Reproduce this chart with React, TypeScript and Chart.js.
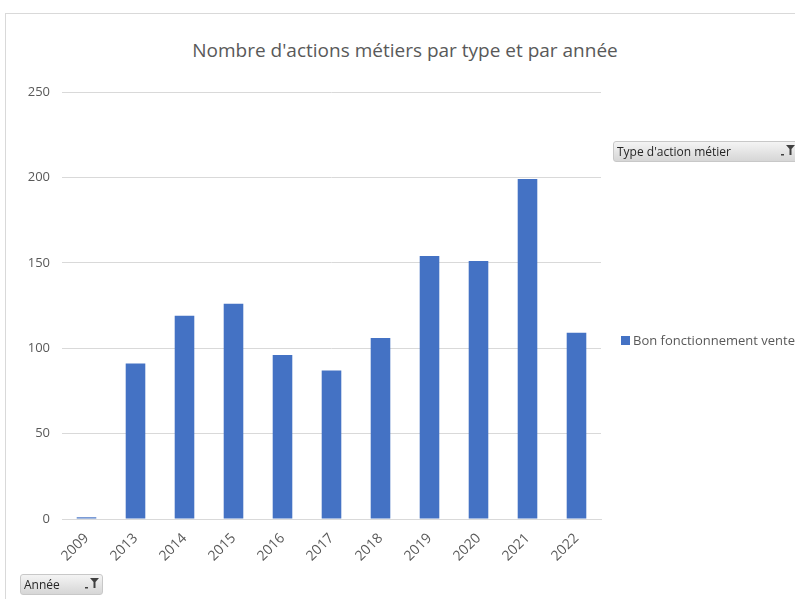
import React, { useEffect, useRef } from "react";
import { Chart, registerables } from "chart.js";

Chart.register(...registerables);

const title = "Nombre d'actions métiers par type et par année";
const categories = ["2009", "2013", "2014", "2015", "2016", "2017", "2018", "2019", "2020", "2021", "2022"];
const seriesName = "Bon fonctionnement vente";
const seriesValues = [1, 91, 119, 126, 96, 87, 106, 154, 151, 199, 109];
const legendFieldLabel = "Type d'action métier";
const axisFieldLabel = "Année";

const FONT = "'Open Sans', 'Noto Sans', sans-serif";
const BAR = "#4472C4";

function Funnel() {
  return (
    <svg width="16" height="14" viewBox="0 0 16 14" style={{ position: "absolute", right: 2, top: 2 }}>
      <polygon points="6,1 15,1 11.5,5 11.5,11 9.5,11 9.5,5" fill="#404040" />
      <rect x="1" y="10" width="3" height="1.5" fill="#404040" />
    </svg>
  );
}

function FieldButton({ label, left, top, width }: { label: string; left: number; top: number; width: number }) {
  return (
    <div
      style={{
        position: "absolute",
        left,
        top,
        width,
        height: 21,
        boxSizing: "border-box",
        borderRadius: 3,
        border: "1px solid #c8c8c8",
        background: "linear-gradient(#f4f4f4, #d6d6d6)",
        fontFamily: FONT,
        fontSize: 12,
        color: "#262626",
        lineHeight: "19px",
        paddingLeft: 3,
        whiteSpace: "nowrap",
        overflow: "hidden",
      }}
    >
      {label}
      <Funnel />
    </div>
  );
}

export default function App() {
  const ref = useRef<HTMLCanvasElement>(null);
  useEffect(() => {
    if (!ref.current) return;
    const chart = new Chart(ref.current, {
      type: "bar",
      data: {
        labels: categories,
        datasets: [
          {
            label: seriesName,
            data: seriesValues,
            backgroundColor: BAR,
            borderWidth: 0,
            barPercentage: 0.4,
            categoryPercentage: 1,
          },
        ],
      },
      options: {
        animation: false,
        responsive: false,
        maintainAspectRatio: false,
        layout: { padding: { left: 0, right: 194, top: 92, bottom: 0 } },
        plugins: {
          legend: { display: false },
          tooltip: { enabled: false },
          title: { display: false },
        },
        scales: {
          x: {
            grid: { display: false, drawTicks: false },
            border: { display: true, color: "#d9d9d9", width: 1 },
            ticks: {
              color: "#595959",
              font: { family: FONT, size: 14 },
              minRotation: 45,
              maxRotation: 45,
              padding: 11,
            },
            afterFit: (s: any) => {
              s.height = 80;
            },
          },
          y: {
            min: 0,
            max: 250,
            grid: { color: "#d9d9d9", drawTicks: false },
            border: { display: false },
            ticks: {
              stepSize: 50,
              color: "#595959",
              font: { family: FONT, size: 13 },
              padding: 12,
            },
            afterFit: (s: any) => {
              s.width = 62;
            },
          },
        },
      },
    });
    return () => chart.destroy();
  }, []);

  return (
    <div style={{ position: "fixed", left: 0, top: 0, width: 795, height: 599, overflow: "hidden", background: "#fff" }}>
      <div
        style={{
          position: "absolute",
          left: 5,
          top: 13,
          width: 800,
          height: 600,
          borderLeft: "1px solid #d9d9d9",
          borderTop: "1px solid #d9d9d9",
        }}
      />
      <div
        style={{
          position: "absolute",
          left: 205,
          width: 400,
          top: 37,
          textAlign: "center",
          whiteSpace: "nowrap",
          fontFamily: FONT,
          fontSize: 19,
          color: "#595959",
          lineHeight: "26px",
          display: "flex",
          justifyContent: "center",
        }}
      >
        {title}
      </div>
      <canvas ref={ref} width={795} height={599} style={{ position: "absolute", left: 0, top: 0 }} />
      <FieldButton label={legendFieldLabel} left={613} top={141} width={186} />
      <FieldButton label={axisFieldLabel} left={20} top={574} width={83} />
      <div
        style={{
          position: "absolute",
          left: 621,
          top: 331,
          whiteSpace: "nowrap",
          fontFamily: FONT,
          fontSize: 13,
          color: "#595959",
          display: "flex",
          alignItems: "center",
        }}
      >
        <span style={{ display: "inline-block", width: 9, height: 9, background: BAR, marginRight: 3 }} />
        {seriesName}
      </div>
    </div>
  );
}
